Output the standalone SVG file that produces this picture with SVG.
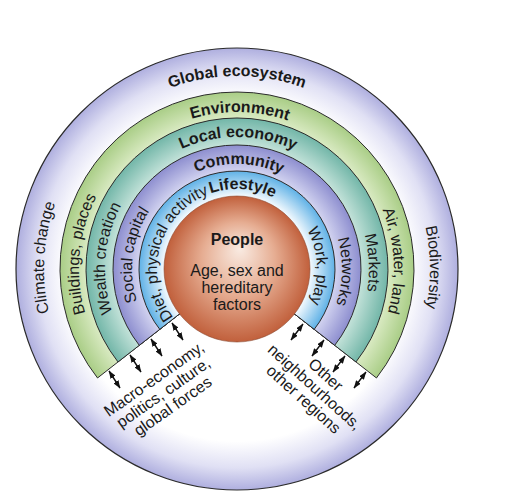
<svg xmlns="http://www.w3.org/2000/svg" width="505" height="492" viewBox="0 0 505 492">
<style>
.edge{stroke:#2b2b2b;stroke-width:1}
.lbl{font-family:"Liberation Sans",Arial,sans-serif;font-size:16px;fill:#1a1a1a}
.b{font-weight:bold}
.arr{stroke:#111;stroke-width:1.4;fill:none;marker-start:url(#ah);marker-end:url(#ah)}
</style>
<defs>
<radialGradient id="gOuter" gradientUnits="userSpaceOnUse" cx="237" cy="269" r="221">
<stop offset="0" stop-color="#ffffff"/><stop offset="0.78" stop-color="#ffffff"/><stop offset="0.9" stop-color="#e0e0f4"/><stop offset="1" stop-color="#afafdf"/>
</radialGradient>
<radialGradient id="gGreen" gradientUnits="userSpaceOnUse" cx="237" cy="269" r="177">
<stop offset="0.853" stop-color="#d9eac2"/><stop offset="1" stop-color="#a9cd86"/>
</radialGradient>
<radialGradient id="gTeal" gradientUnits="userSpaceOnUse" cx="237" cy="269" r="151">
<stop offset="0.821" stop-color="#c3e2d9"/><stop offset="1" stop-color="#72b6a8"/>
</radialGradient>
<radialGradient id="gPurple" gradientUnits="userSpaceOnUse" cx="237" cy="269" r="124">
<stop offset="0.79" stop-color="#d2d3f0"/><stop offset="1" stop-color="#8d8ecf"/>
</radialGradient>
<radialGradient id="gBlue" gradientUnits="userSpaceOnUse" cx="237" cy="269" r="98">
<stop offset="0.745" stop-color="#f4fafe"/><stop offset="1" stop-color="#5fb1e6"/>
</radialGradient>
<radialGradient id="gPeople" cx="0.5" cy="0.5" r="0.5" fx="0.52" fy="0.36">
<stop offset="0" stop-color="#f9ebe2"/><stop offset="0.5" stop-color="#e6ad92"/><stop offset="1" stop-color="#c1603c"/>
</radialGradient>
<marker id="ah" viewBox="0 0 8 6" refX="7.5" refY="3" markerWidth="8" markerHeight="6" markerUnits="userSpaceOnUse" orient="auto-start-reverse">
<path d="M0,0 L8,3 L0,6 Z" fill="#111"/>
</marker>
<path id="p1" d="M46.93,302.51 A193,193 0 1 1 427.07,302.51"/>
<path id="p2" d="M81.93,293.56 A157,157 0 1 1 391.12,298.96"/>
<path id="p3" d="M106.81,290.79 A132,132 0 1 1 366.79,293.06"/>
<path id="p4" d="M133.29,285.43 A105,105 0 1 1 340.07,289.04"/>
<path id="p5" d="M157.44,277.36 A80,80 0 1 1 314.62,288.35"/>
<path id="p6" d="M259.18,460.72 A193,193 0 1 1 281.73,81.26"/>
<path id="p7" d="M249.40,426.51 A158,158 0 1 1 279.22,116.75"/>
<path id="p8" d="M249.19,400.44 A132,132 0 1 1 270.50,141.32"/>
<path id="p9" d="M241.03,373.92 A105,105 0 1 1 269.10,169.03"/>
<path id="p10" d="M228.64,348.56 A80,80 0 1 1 272.07,197.10"/>
<path id="p11" d="M220.09,190.81 A80,80 0 1 1 226.14,348.26"/>
<path id="p12" d="M221.12,165.21 A105,105 0 1 1 216.43,371.96"/>
<path id="p13" d="M207.98,140.23 A132,132 0 1 1 220.23,399.93"/>
<path id="p14" d="M201.68,116.02 A157,157 0 1 1 217.87,424.83"/>
<path id="p15" d="M201.83,79.23 A193,193 0 1 1 205.15,459.35"/>
</defs>

<g id="global-ecosystem">
<circle cx="237" cy="269" r="221" fill="url(#gOuter)" stroke="#2b2b2b" stroke-width="1.2"/>
<text class="lbl b" text-anchor="middle"><textPath href="#p1" startOffset="50%">Global ecosystem</textPath></text>
<text class="lbl" text-anchor="middle"><textPath href="#p6" startOffset="50%">Climate change</textPath></text>
<text class="lbl" text-anchor="middle"><textPath href="#p15" startOffset="50%">Biodiversity</textPath></text>
</g>

<g id="environment">
<path class="edge" fill="url(#gGreen)" d="M237,269 L97.52,377.97 A177,177 0 1 1 376.48,377.97 Z"/>
<text class="lbl b" text-anchor="middle"><textPath href="#p2" startOffset="50%">Environment</textPath></text>
<text class="lbl" text-anchor="middle"><textPath href="#p7" startOffset="50%">Buildings, places</textPath></text>
<text class="lbl" text-anchor="middle"><textPath href="#p14" startOffset="50%">Air, water, land</textPath></text>
</g>

<g id="local-economy">
<path class="edge" fill="url(#gTeal)" d="M237,269 L118.01,361.96 A151,151 0 1 1 355.99,361.96 Z"/>
<text class="lbl b" text-anchor="middle"><textPath href="#p3" startOffset="50%">Local economy</textPath></text>
<text class="lbl" text-anchor="middle"><textPath href="#p8" startOffset="50%">Wealth creation</textPath></text>
<text class="lbl" text-anchor="middle"><textPath href="#p13" startOffset="50%">Markets</textPath></text>
</g>

<g id="community">
<path class="edge" fill="url(#gPurple)" d="M237,269 L139.29,345.34 A124,124 0 1 1 334.71,345.34 Z"/>
<text class="lbl b" text-anchor="middle"><textPath href="#p4" startOffset="50%">Community</textPath></text>
<text class="lbl" text-anchor="middle"><textPath href="#p9" startOffset="50%">Social capital</textPath></text>
<text class="lbl" text-anchor="middle"><textPath href="#p12" startOffset="50%">Networks</textPath></text>
</g>

<g id="lifestyle">
<path class="edge" fill="url(#gBlue)" d="M237,269 L159.77,329.33 A98,98 0 1 1 314.23,329.33 Z"/>
<text class="lbl b" text-anchor="middle"><textPath href="#p5" startOffset="50%">Lifestyle</textPath></text>
<text class="lbl" text-anchor="middle"><textPath href="#p10" startOffset="50%">Diet, physical activity</textPath></text>
<text class="lbl" text-anchor="middle"><textPath href="#p11" startOffset="50%">Work, play</textPath></text>
</g>

<g id="people">
<circle cx="237" cy="269" r="73" fill="url(#gPeople)" stroke="#8a4a32" stroke-width="0.6"/>
<text class="lbl b" x="237" y="245" text-anchor="middle">People</text>
<text class="lbl" x="237" y="276" text-anchor="middle">Age, sex and</text>
<text class="lbl" x="237" y="293" text-anchor="middle">hereditary</text>
<text class="lbl" x="237" y="310" text-anchor="middle">factors</text>
</g>

<g id="macro-forces" transform="translate(166.5,397) rotate(-35)">
<text class="lbl" x="0" y="-16.5" text-anchor="middle">Macro-economy,</text>
<text class="lbl" x="0" y="0" text-anchor="middle">politics, culture,</text>
<text class="lbl" x="0" y="16.5" text-anchor="middle">global forces</text>
</g>

<g id="other-regions" transform="translate(311,391) rotate(42)">
<text class="lbl" x="0" y="-16.5" text-anchor="middle">Other</text>
<text class="lbl" x="0" y="0" text-anchor="middle">neighbourhoods,</text>
<text class="lbl" x="0" y="16.5" text-anchor="middle">other regions</text>
</g>

<g id="connectors">
<line class="arr" x1="172" y1="323" x2="183" y2="340"/>
<line class="arr" x1="151" y1="339" x2="162" y2="356"/>
<line class="arr" x1="130" y1="355" x2="141" y2="372"/>
<line class="arr" x1="109" y1="371" x2="120" y2="388"/>
<line class="arr" x1="303" y1="324" x2="291" y2="340"/>
<line class="arr" x1="324" y1="340" x2="312" y2="356"/>
<line class="arr" x1="345" y1="356" x2="333" y2="372"/>
<line class="arr" x1="366" y1="372" x2="354" y2="388"/>
</g>
</svg>
